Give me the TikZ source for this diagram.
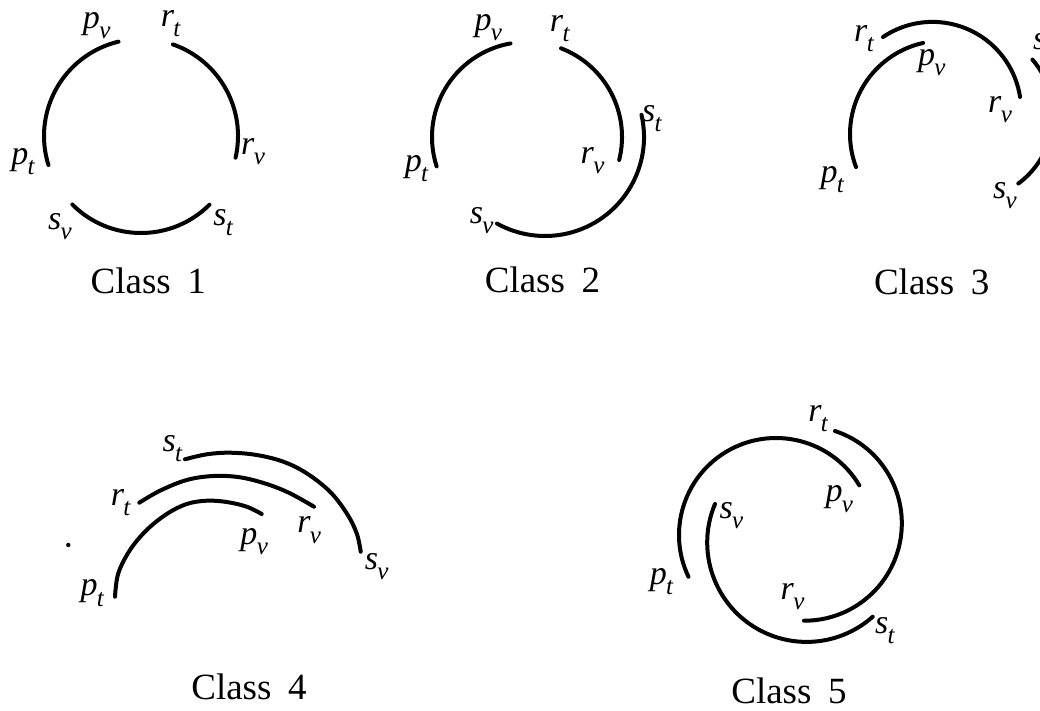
\documentclass[tikz,border=0pt]{standalone}
\usepackage{fontspec}
\setmainfont{Liberation Serif}
\newcommand{\lab}[2]{\textit{#1}\kern-0.02em\raisebox{-0.3em}{\fontsize{25}{25}\selectfont\textit{#2}}}
\newcommand{\classname}[1]{Class\hspace{0.45em}#1}
\tikzset{
  curve/.style={line width=4pt, line cap=round},
  lbl/.style={inner sep=0pt, outer sep=0pt, font=\fontsize{34}{36}\selectfont},
  cls/.style={inner sep=0pt, outer sep=0pt, font=\fontsize{37}{40}\selectfont}
}
\begin{document}
\begin{tikzpicture}[x=1pt,y=-1pt]
\useasboundingbox (0,0) rectangle (1040,710);
\clip (0,0) rectangle (1040,710);
\fill[white] (0,0) rectangle (1040,710);
% ---------- Class 1 ----------
\draw[curve] ([shift={(141,136)}]-103.4:97) arc[start angle=-103.4, end angle=-197.4, radius=97];
\draw[curve] ([shift={(141,136)}]-70.8:97) arc[start angle=-70.8, end angle=12.9, radius=97];
\draw[curve] ([shift={(141,136)}]-224.9:97) arc[start angle=-224.9, end angle=-314.9, radius=97];
\node[lbl] (c1pv) at (96.7,25.8) {\lab{p}{v}};
\node[lbl] (c1rt) at (170.8,23.3) {\lab{r}{t}};
\node[lbl] (c1pt) at (23.3,161.7) {\lab{p}{t}};
\node[lbl] (c1rv) at (253,151.7) {\lab{r}{v}};
\node[lbl] (c1sv) at (60,226.7) {\lab{s}{v}};
\node[lbl] (c1st) at (223.3,222.5) {\lab{s}{t}};
\node[cls] (c1) at (148.3,280.5) {\classname{1}};
% ---------- Class 2 ----------
\draw[curve] ([shift={(527,137)}]-100:95) arc[start angle=-100, end angle=-198, radius=95];
\draw[curve] ([shift={(527,137)}]-69:95) arc[start angle=-69, end angle=14, radius=95];
\draw[curve] ([shift={(545,137)}]-13:99) arc[start angle=-13, end angle=119, radius=99];
\node[lbl] (c2pv) at (488.3,27.5) {\lab{p}{v}};
\node[lbl] (c2rt) at (560,28.3) {\lab{r}{t}};
\node[lbl] (c2st) at (652,119) {\lab{s}{t}};
\node[lbl] (c2rv) at (592.5,160.8) {\lab{r}{v}};
\node[lbl] (c2pt) at (416.7,169) {\lab{p}{t}};
\node[lbl] (c2sv) at (481.7,221) {\lab{s}{v}};
\node[cls] (c2) at (542.5,280) {\classname{2}};
% ---------- Class 3 ----------
\draw[curve] ([shift={(932.5,110.5)}]-124:88.6) arc[start angle=-124, end angle=-8.8, radius=88.6];
\draw[curve] ([shift={(943.4,134.1)}]-102.6:93.4) arc[start angle=-102.6, end angle=-200.6, radius=93.4];
\draw[curve] ([shift={(968,115)}]-40.7:85) arc[start angle=-40.7, end angle=53.7, radius=85];
\node[lbl] (c3rt) at (864.2,38.3) {\lab{r}{t}};
\node[lbl] (c3pv) at (931.7,62.5) {\lab{p}{v}};
\node[lbl] (c3rv) at (1000,110) {\lab{r}{v}};
\node[lbl] (c3st) at (1043,47) {\lab{s}{t}};
\node[lbl] (c3pt) at (832.5,180) {\lab{p}{t}};
\node[lbl] (c3sv) at (1005,195.8) {\lab{s}{v}};
\node[cls] (c3) at (931.7,281.5) {\classname{3}};
% ---------- Class 4 ----------
\draw[curve] plot[smooth, tension=0.6] coordinates {(185,459.3) (206.7,454.3) (230,452.7) (256.7,455) (283.3,461.7) (306.7,473.3) (330,491.7) (346.7,513.3) (356.7,533.3) (360.7,551.7)};
\draw[curve] plot[smooth, tension=0.6] coordinates {(139.3,502.7) (160,490.7) (186.7,480) (213.3,476) (240,477.3) (266.7,484) (290,493.3) (314,506.7)};
\draw[curve] plot[smooth, tension=0.6] coordinates {(115,596.7) (118.3,573.3) (130,550) (146.7,530) (166.7,514) (186.7,504) (206.7,500.7) (226.7,502) (246.7,506.7) (261.7,514)};
\fill (68.3,545) circle[radius=2.2];
\node[lbl] (c4st) at (172.5,448.3) {\lab{s}{t}};
\node[lbl] (c4rt) at (120.8,502.5) {\lab{r}{t}};
\node[lbl] (c4pv) at (254.2,541.7) {\lab{p}{v}};
\node[lbl] (c4rv) at (309.2,530) {\lab{r}{v}};
\node[lbl] (c4sv) at (376.7,566.7) {\lab{s}{v}};
\node[lbl] (c4pt) at (92.5,593) {\lab{p}{t}};
\node[cls] (c4) at (249,687) {\classname{4}};
% ---------- Class 5 ----------
\draw[curve] ([shift={(776,535)}]-30.8:97) arc[start angle=-30.8, end angle=-205.5, radius=97];
\draw[curve] ([shift={(804.5,523.4)}]-71.7:97.3) arc[start angle=-71.7, end angle=90.3, radius=97.3];
\draw[curve] ([shift={(806.6,542.5)}]-157.2:99.4) arc[start angle=-157.2, end angle=-311.7, radius=99.4];
\node[lbl] (c5rt) at (818.3,418.3) {\lab{r}{t}};
\node[lbl] (c5pv) at (839.2,499) {\lab{p}{v}};
\node[lbl] (c5sv) at (731.5,515.8) {\lab{s}{v}};
\node[lbl] (c5pt) at (661.7,581.7) {\lab{p}{t}};
\node[lbl] (c5rv) at (792.5,596.7) {\lab{r}{v}};
\node[lbl] (c5st) at (885,630.8) {\lab{s}{t}};
\node[cls] (c5) at (789,691) {\classname{5}};
\end{tikzpicture}
\end{document}
